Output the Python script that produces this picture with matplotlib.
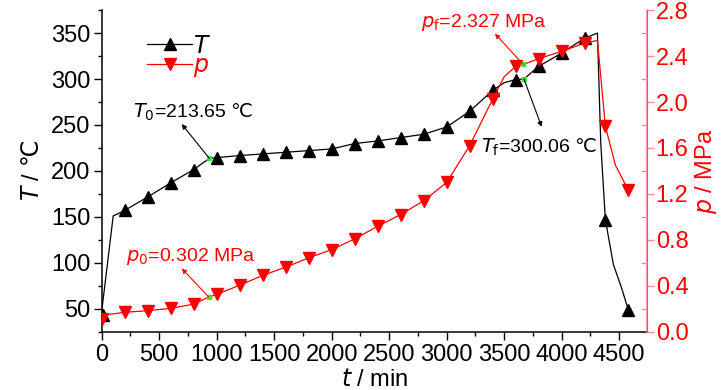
import matplotlib
matplotlib.use("Agg")
import matplotlib.pyplot as plt
from matplotlib.ticker import MultipleLocator, FormatStrFormatter
from matplotlib.lines import Line2D

FONT = ['Liberation Sans Narrow', 'Liberation Sans', 'DejaVu Sans']
plt.rcParams['font.family'] = FONT
plt.rcParams['mathtext.fontset'] = 'custom'
plt.rcParams['mathtext.rm'] = 'Liberation Sans Narrow'
plt.rcParams['mathtext.it'] = 'Liberation Sans Narrow:italic'
plt.rcParams['mathtext.sf'] = 'DejaVu Sans'

# ---------------- data ----------------
# temperature markers (every ~200 min)
t_T_mark = [10, 200, 400, 600, 800, 1000, 1200, 1400, 1600, 1800, 2000, 2200,
            2400, 2600, 2800, 3000, 3200, 3400, 3600, 3800, 4000, 4200, 4380, 4580]
T_mark = [43, 157, 171.7, 187, 201.5, 214.5, 216.7, 218.5, 220.3, 222.1, 223.9, 229.8,
          232.6, 236.3, 239.9, 247.8, 264.9, 287.7, 299.5, 313.8, 328.3, 344.6, 147, 48.5]
# temperature line
t_T_line = [0, 100, 200, 400, 600, 800, 936, 1000, 1200, 1400, 1600, 1800, 2000, 2200,
            2400, 2600, 2800, 3000, 3200, 3400, 3500, 3600, 3672, 3800, 4000, 4200,
            4311, 4340, 4380, 4450, 4520, 4580]
T_line = [47, 151, 157, 171.7, 187, 201.5, 213.65, 214.5, 216.7, 218.5, 220.3, 222.1, 223.9,
          229.8, 232.6, 236.3, 239.9, 247.8, 264.9, 287.7, 296, 299.5, 300.06, 313.8, 328.3,
          344.6, 350, 230, 147, 98, 73, 48.5]

# pressure markers
t_p_mark = [0, 200, 400, 600, 800, 1000, 1200, 1400, 1600, 1800, 2000, 2200,
            2400, 2600, 2800, 3000, 3200, 3400, 3600, 3800, 4000, 4200, 4380, 4580]
p_mark = [0.11, 0.169, 0.183, 0.203, 0.240, 0.325, 0.405, 0.49, 0.562, 0.643, 0.715, 0.808,
          0.918, 1.02, 1.14, 1.30, 1.62, 2.025, 2.31, 2.377, 2.441, 2.513, 1.79, 1.232]
# pressure line
t_p_line = [0, 60, 200, 400, 600, 800, 930, 1000, 1200, 1400, 1600, 1800, 2000, 2200,
            2400, 2600, 2800, 3000, 3200, 3400, 3500, 3600, 3666, 3800, 4000, 4200,
            4311, 4380, 4467, 4580]
p_line = [0.11, 0.15, 0.169, 0.183, 0.203, 0.240, 0.302, 0.325, 0.405, 0.49, 0.562, 0.643,
          0.715, 0.808, 0.918, 1.02, 1.14, 1.30, 1.62, 2.025, 2.22, 2.31, 2.327, 2.377,
          2.441, 2.513, 2.536, 1.79, 1.45, 1.232]

# key points
t_T0, T0 = 936, 213.65
t_Tf, Tf = 3672, 300.06
t_p0, p0 = 930, 0.302
t_pf, pf = 3666, 2.327

T_ticks = [50, 100, 150, 200, 250, 300, 350]
p_ticks = [0.0, 0.4, 0.8, 1.2, 1.6, 2.0, 2.4, 2.8]
t_ticks = [0, 500, 1000, 1500, 2000, 2500, 3000, 3500, 4000, 4500]

RED = '#ff0000'
PINK = '#f08c8c'
GREEN = '#33ee33'
ANN_FONT = ['Liberation Sans', 'DejaVu Sans']

fig = plt.figure(figsize=(7.28, 3.90), dpi=100)
ax = fig.add_axes([0.1397, 0.1495, 0.7495, 0.8245])
ax2 = ax.twinx()

# temperature
ax.plot(t_T_line, T_line, color='black', lw=0.9, zorder=3)
ax.plot(t_T_mark, T_mark, ls='none', marker='^', ms=8, color='black', zorder=4)
ax.plot([t_T0, t_Tf], [T0, Tf], ls='none', marker='s', ms=3, color=GREEN, zorder=5)

# pressure
ax2.plot(t_p_line, p_line, color=RED, lw=0.9, zorder=3)
ax2.plot(t_p_mark, p_mark, ls='none', marker='v', ms=8, color=RED, zorder=4)
ax2.plot([t_p0, t_pf], [p0, pf], ls='none', marker='s', ms=3, color=GREEN, zorder=5)

ax.set_xlim(0, 4745)
ax.set_ylim(25, 375)
ax2.set_ylim(0, 2.8)

ax.set_xticks(t_ticks)
ax.set_yticks(T_ticks)
ax2.set_yticks(p_ticks)
ax.xaxis.set_minor_locator(MultipleLocator(250))
ax.yaxis.set_minor_locator(MultipleLocator(25))
ax2.yaxis.set_minor_locator(MultipleLocator(0.2))
ax2.yaxis.set_major_formatter(FormatStrFormatter('%.1f'))

for a in (ax, ax2):
    a.spines['top'].set_visible(False)
ax.spines['left'].set_linewidth(1.1)
ax.spines['bottom'].set_linewidth(1.1)
ax2.spines['right'].set_color(PINK)
ax2.spines['right'].set_linewidth(1.1)
ax2.spines['left'].set_visible(False)
ax2.spines['bottom'].set_visible(False)

ax.tick_params(axis='both', which='major', direction='out', length=6, width=1.0,
               labelsize=17, pad=2)
ax.tick_params(axis='both', which='minor', direction='out', length=3, width=1.0)
ax.tick_params(axis='x', which='major', pad=3)
ax2.tick_params(axis='y', which='major', direction='out', length=5, width=1.0,
                colors=PINK, labelcolor=RED, labelsize=17, pad=1)
ax2.tick_params(axis='y', which='minor', direction='in', length=4, width=1.0, colors=PINK)

ax.set_xlabel(r'$\mathit{t}$ / min', fontsize=17, labelpad=2)
ax.set_ylabel(r'$\mathit{T}$ / $\mathsf{℃}$', fontsize=17, labelpad=5)
ax2.set_ylabel(r'$\mathit{p}$ / MPa', fontsize=17, color=RED, labelpad=3)

# annotations
arrow_k = dict(arrowstyle='-|>', color='black', lw=0.8, mutation_scale=7,
               shrinkA=0, shrinkB=0)
arrow_r = dict(arrowstyle='-|>', color=RED, lw=0.8, mutation_scale=7,
               shrinkA=0, shrinkB=0)
ax.annotate('', xy=(696, 251), xytext=(t_T0, T0), arrowprops=arrow_k, zorder=6)
ax.text(270, 264, r'$\mathit{T}_\mathrm{0}$=213.65 $\mathsf{℃}$', fontsize=14, va='center',
        ha='left', family=ANN_FONT)
ax.annotate('', xy=(3826, 248), xytext=(t_Tf, Tf), arrowprops=arrow_k, zorder=6)
ax.text(3300, 226, r'$\mathit{T}_\mathrm{f}$=300.06 $\mathsf{℃}$', fontsize=14, va='center',
        ha='left', family=ANN_FONT)

ax2.annotate('', xy=(696, 0.551), xytext=(t_p0, p0), arrowprops=arrow_r, zorder=6)
ax2.text(215, 0.652, r'$\mathit{p}_\mathrm{0}$=0.302 MPa', fontsize=14, va='center',
         ha='left', color=RED, family=ANN_FONT)
ax2.annotate('', xy=(3420, 2.595), xytext=(t_pf, pf), arrowprops=arrow_r, zorder=6)
ax2.text(2780, 2.696, r'$\mathit{p}_\mathrm{f}$=2.327 MPa', fontsize=14, va='center',
         ha='left', color=RED, family=ANN_FONT)

handles = [Line2D([], [], color='black', lw=0.9, marker='^', ms=8),
           Line2D([], [], color=RED, lw=0.9, marker='v', ms=8)]
leg = ax.legend(handles, [r'$\mathit{T}$', r'$\mathit{p}$'], loc='upper left',
                bbox_to_anchor=(0.066, 0.95), frameon=False, fontsize=17,
                handlelength=1.9, handletextpad=0.05, labelspacing=-0.1,
                borderaxespad=0, labelcolor=['black', RED])

fig.savefig('out.png', dpi=100)
